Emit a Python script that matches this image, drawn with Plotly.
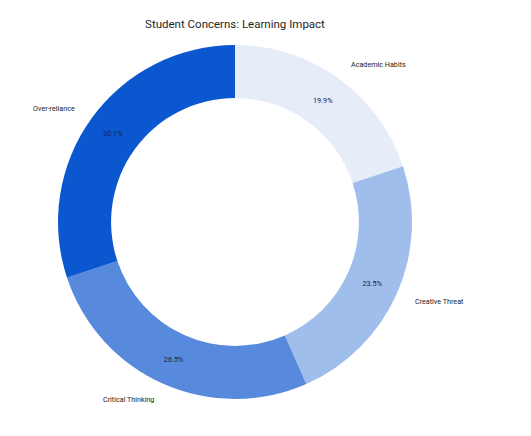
import math
import plotly.graph_objects as go

labels = ["Academic Habits", "Creative Threat", "Critical Thinking", "Over-reliance"]
values = [19.9, 23.5, 26.5, 30.1]
colors = ["#E6EDF9", "#A0BEEC", "#5789DD", "#0B57D0"]
title_text = "Student Concerns: Learning Impact"

OFF = 8  # page body margin
W, H = 531 - OFF, 436 - OFF
R = 177
cx, cy = 235 - OFF, 222 - OFF
ml = cx - R
mt = cy - R
mr = W - ml - 2 * R
mb = H - mt - 2 * R

fig = go.Figure(go.Pie(
    labels=labels, values=values, hole=0.7, sort=False, direction="clockwise",
    rotation=0, marker=dict(colors=colors, line=dict(width=0)),
    texttemplate="%{percent:.1%}", textposition="inside",
    insidetextorientation="horizontal",
    textfont=dict(size=7.3, color="#1a2340", family="Roboto"),
    showlegend=False, hoverinfo="label+percent",
))

total = sum(values)
cum = 0.0
anns = []
for lab, v in zip(labels, values):
    mid = (cum + v / 2) / total * 2 * math.pi
    cum += v
    dx = math.sin(mid)
    dy = math.cos(mid)
    anns.append(dict(
        x=0.5 + 1.1 * dx * 0.5, y=0.5 + 1.1 * dy * 0.5, xref="paper", yref="paper",
        text=lab, showarrow=False, xanchor="left" if dx > 0 else "right",
        yanchor="middle", font=dict(size=7.2, color="#222222", family="Roboto"),
    ))

fig.update_layout(
    width=W, height=H,
    margin=dict(l=ml, r=mr, t=mt, b=mb, autoexpand=False),
    paper_bgcolor="white", plot_bgcolor="white",
    title=dict(text=title_text, x=cx / W, xanchor="center", y=1 - (24 - OFF) / H, yanchor="middle",
               font=dict(size=11.5, color="#1f1f1f", family="Roboto")),
    annotations=anns,
)

fig.write_html("out.html")
